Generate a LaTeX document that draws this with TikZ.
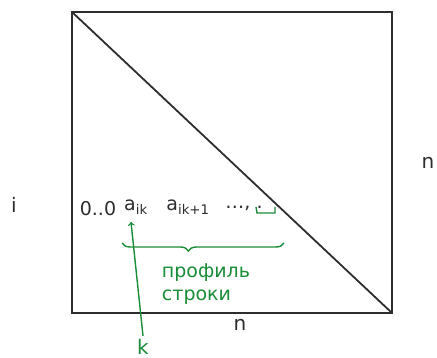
\documentclass[tikz,border=0pt]{standalone}
\usepackage{fontspec}
\setmainfont{DejaVu Sans}
\usepackage{xcolor}
\usetikzlibrary{decorations.pathreplacing}

\definecolor{pen}{RGB}{45,45,48}
\definecolor{ink}{RGB}{25,140,55}

\begin{document}
\begin{tikzpicture}[x=1pt,y=-1pt,
    lbl/.style={text=pen,font=\fontsize{20}{22}\selectfont},
    elem/.style={text=pen,font=\fontsize{19}{21}\selectfont,inner sep=1pt},
    note/.style={text=ink,font=\fontsize{19}{23}\selectfont,align=left}]
        \useasboundingbox (0,0) rectangle (437,358);
        \clip (0,0) rectangle (437,358);

        % matrix and its lower triangle
        \draw[pen,line width=1.8pt] (72,12) rectangle (392,313);
        \draw[pen,line width=1.8pt] (72,12) -- (392,313);

        \node[lbl] (i) at (14,205) {i};
        \node[lbl] (nr) at (428,163) {n};
        \node[lbl] (nb) at (240,325) {n};

        % the row
        \node[elem] (z) at (98,209) {0..0};
        \node[elem] (a1) at (136,207) {a\textsubscript{ik}};
        \node[elem] (a2) at (188,207) {a\textsubscript{ik+1}};
        \node[elem] (dd) at (244,208) {…, .};

        \draw[ink,line width=1.4pt] (256,207) -- (257,213) -- (275,213) -- (275,207);
        \draw[ink,line width=1.4pt,decorate,
            decoration={brace,mirror,amplitude=8pt,aspect=0.41}] (122,243) -- (284,243);

        \node[note] (pr) at (206,284) {профиль\\строки};

        \node[text=ink,font=\fontsize{20}{22}\selectfont] (k) at (143,347) {k};
        \coordinate (tip) at (131,222);
        \draw[ink,line width=1.4pt,->] (k.north) -- (tip);
    \end{tikzpicture}
\end{document}
